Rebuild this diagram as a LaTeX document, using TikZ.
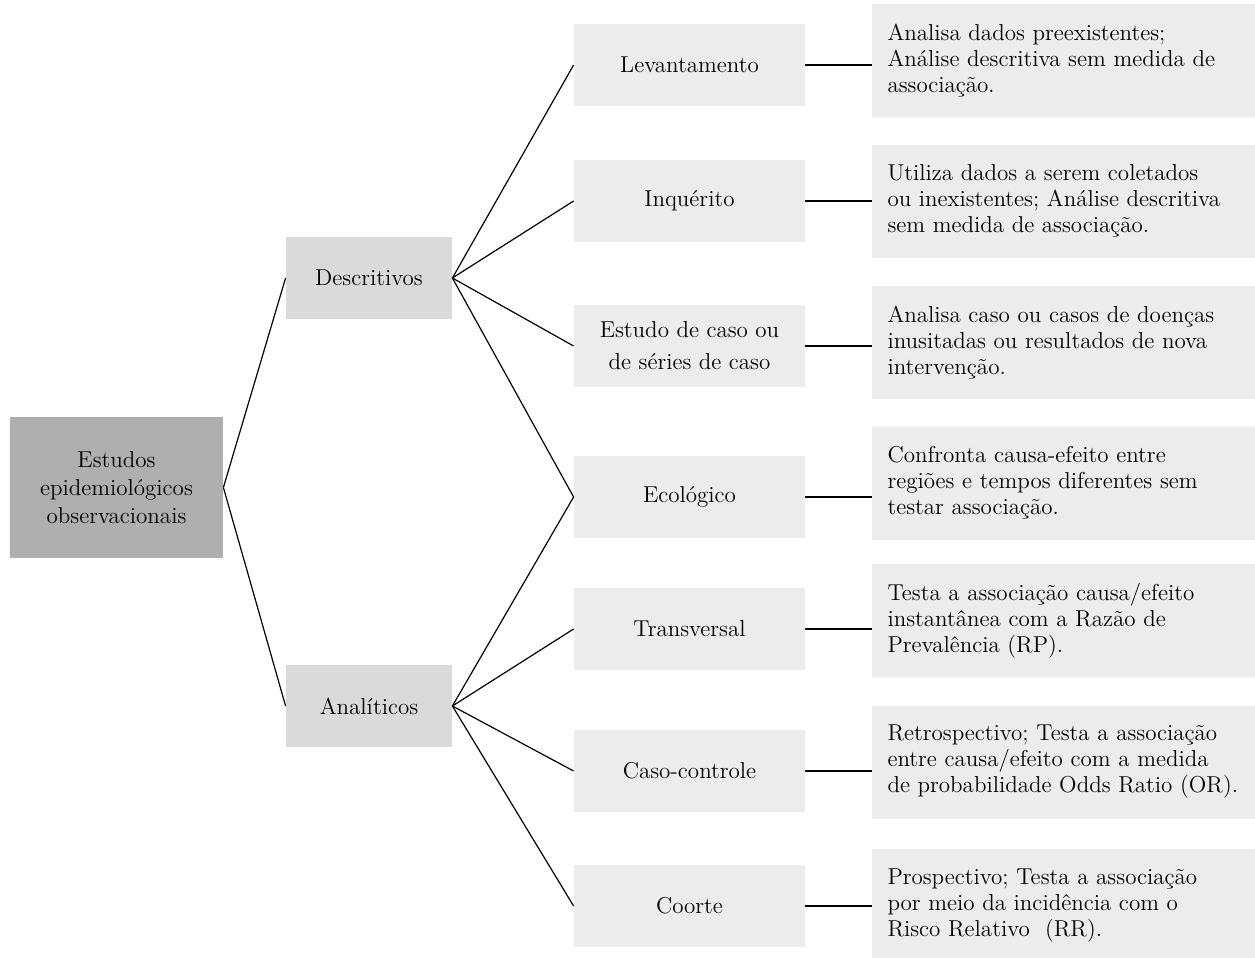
\documentclass[tikz,border=0pt]{standalone}
\usepackage{xcolor}
\usepackage{tikz}
\usetikzlibrary{positioning}

\definecolor{rootgray}{HTML}{AFAFAF}
\definecolor{groupgray}{HTML}{DADADA}
\definecolor{boxgray}{HTML}{ECECEC}

\begin{document}
\begin{tikzpicture}[x=0.5pt, y=-0.5pt,
  every node/.style={font=\fontsize{11.5}{13}\selectfont, inner sep=0pt},
  rootbox/.style={fill=rootgray, align=center, minimum width=106.5pt, minimum height=70.5pt,
                  font=\fontsize{11.5}{14}\selectfont},
  groupbox/.style={fill=groupgray, align=center, minimum width=83pt, minimum height=41pt},
  typebox/.style={fill=boxgray, align=center, minimum width=115.5pt, minimum height=41pt,
                  font=\fontsize{11.5}{16}\selectfont},
  notebox/.style={fill=boxgray, align=left, text width=176pt, minimum height=56.5pt,
                  inner xsep=7.75pt},
  link/.style={line width=0.6pt}]
  \useasboundingbox (0,0) rectangle (1255,958);

  % Root
  \node[rootbox] (root) at (116.5,487.5) {Estudos\\epidemiológicos\\observacionais};

  % Groups
  \node[groupbox] (descr) at (369,278) {Descritivos};
  \node[groupbox] (analit) at (369,706) {Analíticos};

  % Study types
  \node[typebox] (levant) at (689.5,65) {Levantamento};
  \node[typebox] (inquer) at (689.5,201) {Inquérito};
  \node[typebox] (estudo) at (689.5,346) {Estudo de caso ou\\de séries de caso};
  \node[typebox] (ecolog) at (689.5,497) {Ecológico};
  \node[typebox] (transv) at (689.5,629) {Transversal};
  \node[typebox] (casoct) at (689.5,771) {Caso-controle};
  \node[typebox] (coorte) at (689.5,906) {Coorte};

  % Notes
  \node[notebox] (nlevant) at (1063.5,60.5) {Analisa dados preexistentes;\\
    Análise descritiva sem medida de\\associação.};
  \node[notebox] (ninquer) at (1063.5,201) {Utiliza dados a serem coletados\\
    ou inexistentes; Análise descritiva\\sem medida de associação.};
  \node[notebox] (nestudo) at (1063.5,342.5) {Analisa caso ou casos de doenças\\
    inusitadas ou resultados de nova\\intervenção.};
  \node[notebox] (necolog) at (1063.5,483) {Confronta causa-efeito entre\\
    regiões e tempos diferentes sem\\testar associação.};
  \node[notebox] (ntransv) at (1063.5,620.5) {Testa a associação causa/efeito\\
    instantânea com a Razão de\\Prevalência (RP).};
  \node[notebox] (ncasoct) at (1063.5,762) {Retrospectivo; Testa a associação\\
    entre causa/efeito com a medida\\de probabilidade Odds Ratio (OR).};
  \node[notebox] (ncoorte) at (1063.5,905.5) {Prospectivo; Testa a associação\\
    por meio da incidência com o\\Risco Relativo~ (RR).};

  % Tree links
  \draw[link] (root.east) -- (descr.west);
  \draw[link] (root.east) -- (analit.west);
  \draw[link] (descr.east) -- (levant.west);
  \draw[link] (descr.east) -- (inquer.west);
  \draw[link] (descr.east) -- (estudo.west);
  \draw[link] (descr.east) -- (ecolog.west);
  \draw[link] (analit.east) -- (ecolog.west);
  \draw[link] (analit.east) -- (transv.west);
  \draw[link] (analit.east) -- (casoct.west);
  \draw[link] (analit.east) -- (coorte.west);

  % Type-to-note links
  \draw[link] (levant.east) -- (levant.east -| nlevant.west);
  \draw[link] (inquer.east) -- (inquer.east -| ninquer.west);
  \draw[link] (estudo.east) -- (estudo.east -| nestudo.west);
  \draw[link] (ecolog.east) -- (ecolog.east -| necolog.west);
  \draw[link] (transv.east) -- (transv.east -| ntransv.west);
  \draw[link] (casoct.east) -- (casoct.east -| ncasoct.west);
  \draw[link] (coorte.east) -- (coorte.east -| ncoorte.west);
\end{tikzpicture}
\end{document}
